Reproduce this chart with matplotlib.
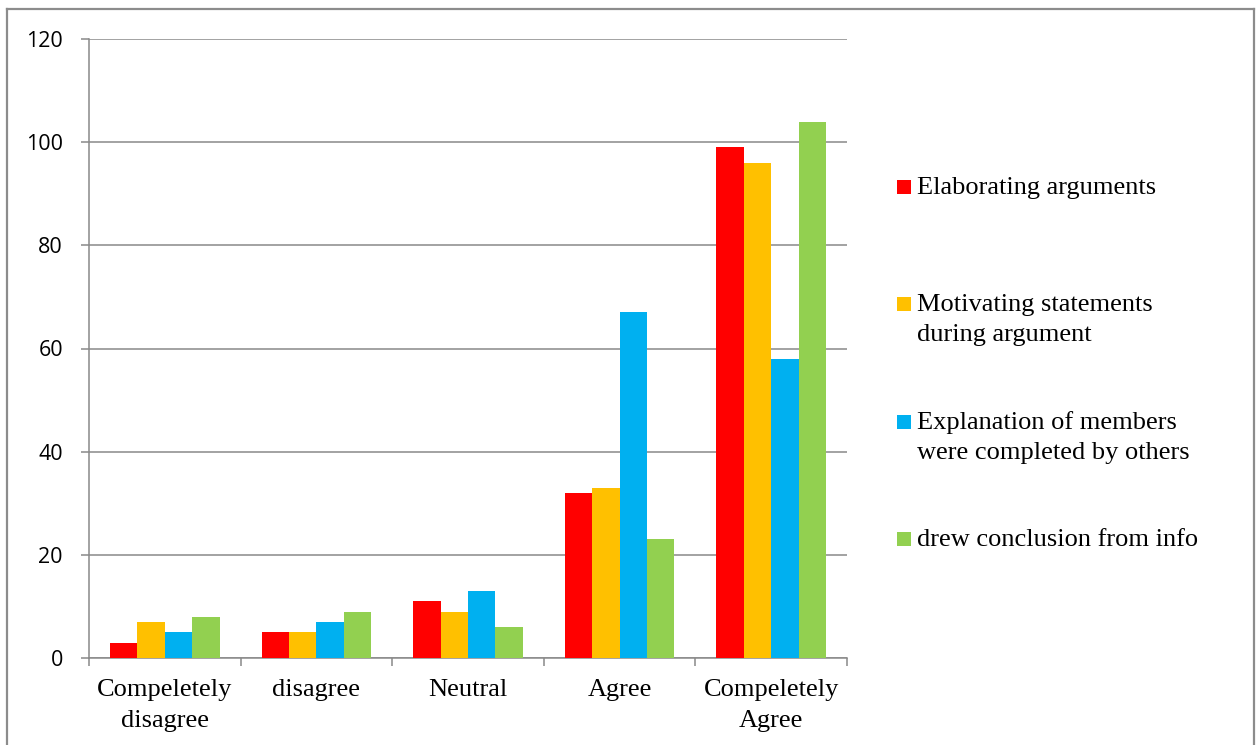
import numpy as np
import matplotlib
matplotlib.use("Agg")
import matplotlib.pyplot as plt
from matplotlib.patches import Rectangle
from matplotlib.lines import Line2D

# Survey responses per agreement level
categories = ["Compeletely\ndisagree", "disagree", "Neutral", "Agree", "Compeletely\nAgree"]
series_names = [
    "Elaborating arguments",
    "Motivating statements\nduring argument",
    "Explanation of members\nwere completed by others",
    "drew conclusion from info",
]
elaborating = [3, 5, 11, 32, 99]
motivating = [7, 5, 9, 33, 96]
explanation = [5, 7, 13, 67, 58]
conclusion = [8, 9, 6, 23, 104]
series_values = [elaborating, motivating, explanation, conclusion]
colors = ["#FF0000", "#FFC000", "#00B0F0", "#92D050"]
yticks = [0, 20, 40, 60, 80, 100, 120]

W, H = 1256, 745
GRAY = "#898989"

fig = plt.figure(figsize=(W / 100, H / 100), dpi=100)
fig.patch.set_facecolor("white")


def fx(px):
    return px / W


def fy(py):
    return 1 - py / H


ax = fig.add_axes([fx(89), fy(658), fx(847) - fx(89), fy(39) - fy(658)])

x = np.arange(len(categories))
bar_w = 0.181
n = len(series_values)
for i, (vals, col) in enumerate(zip(series_values, colors)):
    offs = (i - (n - 1) / 2) * bar_w
    ax.bar(x + offs, vals, width=bar_w, color=col, linewidth=0, zorder=3)

ax.set_xlim(-0.5, len(categories) - 0.5)
ax.set_ylim(0, 120)

# y axis: gridlines with outward ticks
ax.set_yticks(yticks)
ax.set_yticklabels([str(v) for v in yticks], fontfamily="Open Sans", fontsize=15.5)
ax.yaxis.grid(True, color=GRAY, linewidth=1.1, zorder=0)
ax.tick_params(axis="y", length=5.8, width=1.1, color=GRAY, pad=13)

# x axis: ticks on category boundaries, labels centred on categories
ax.set_xticks(np.arange(-0.5, len(categories), 1.0))
ax.set_xticklabels([])
ax.set_xticks(x, minor=True)
ax.set_xticklabels(categories, minor=True, fontfamily="Liberation Serif",
                   fontsize=19, linespacing=1.55)
ax.tick_params(axis="x", which="major", length=5.8, width=1.1, color=GRAY)
ax.tick_params(axis="x", which="minor", length=0, pad=15)

for s in ("top", "right"):
    ax.spines[s].set_visible(False)
for s in ("left", "bottom"):
    ax.spines[s].set_color(GRAY)
    ax.spines[s].set_linewidth(1.1)
ax.set_axisbelow(True)

# legend on the right, square marker beside the first line of each entry
legend_y = [187, 304, 422, 539]
line_step = 30
for name, col, cy in zip(series_names, colors, legend_y):
    fig.patches.append(Rectangle((fx(897), fy(cy + 7)), fx(14), 14 / H,
                                 transform=fig.transFigure, facecolor=col,
                                 edgecolor="none"))
    for k, line in enumerate(name.split("\n")):
        fig.text(fx(917), fy(cy + 7 + k * line_step), line,
                 fontfamily="Liberation Serif", fontsize=19,
                 va="baseline", ha="left", transform=fig.transFigure)

# chart frame
for xs, ys in [((7, 7), (8.5, 760)), ((7, 1254), (8.5, 8.5)), ((1254, 1254), (8.5, 760))]:
    fig.lines.append(Line2D([fx(v) for v in xs], [fy(v) for v in ys],
                            transform=fig.transFigure, color="#8C8C8C", linewidth=1.6))

fig.savefig("out.png", dpi=100, facecolor="white")
